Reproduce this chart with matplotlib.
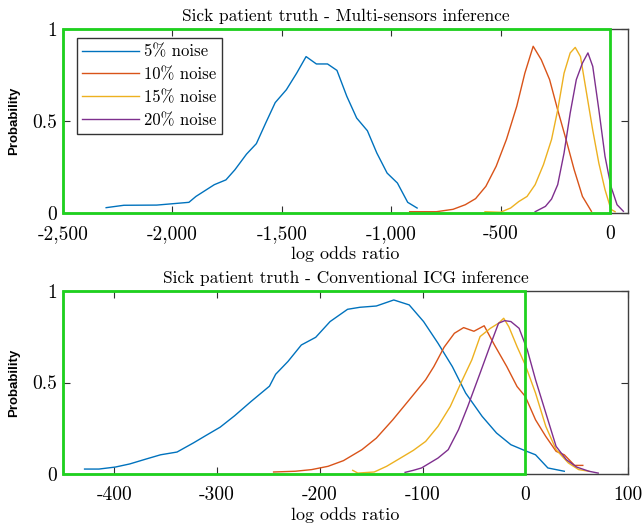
import numpy as np
import matplotlib
matplotlib.use("Agg")
import matplotlib.pyplot as plt
from matplotlib.patches import Rectangle

plt.rcParams['font.family'] = 'serif'
plt.rcParams['font.serif'] = ['cmr10', 'DejaVu Serif']
plt.rcParams['axes.unicode_minus'] = False
plt.rcParams['mathtext.fontset'] = 'cm'

# -----------------------------------------------------------------
# Donnees : panneau du haut (multi-capteurs)
# -----------------------------------------------------------------
top_x5 = [-2303, -2222, -2072, -1925, -1893, -1809, -1756, -1715, -1662, -1617,
          -1574, -1531, -1480, -1433, -1390, -1343, -1292, -1249, -1204, -1159,
          -1110, -1067, -1020, -973, -926, -883]
top_y5 = [0.029, 0.042, 0.043, 0.058, 0.09, 0.154, 0.18, 0.235, 0.32, 0.377,
          0.49, 0.60, 0.67, 0.76, 0.85, 0.81, 0.81, 0.775, 0.634, 0.516,
          0.447, 0.326, 0.217, 0.163, 0.058, 0.027]

top_x10 = [-917, -795, -719, -663, -616, -569, -522, -475, -428, -391,
           -353, -316, -278, -241, -203, -166, -128, -87]
top_y10 = [0.007, 0.007, 0.02, 0.045, 0.078, 0.145, 0.254, 0.40, 0.58, 0.76,
           0.906, 0.833, 0.725, 0.56, 0.40, 0.236, 0.09, 0.009]

top_x15 = [-573, -503, -456, -419, -381, -344, -306, -269, -241, -212,
           -184, -161, -137, -109, -81, -53, -25, 2, 21]
top_y15 = [0.007, 0.004, 0.027, 0.062, 0.09, 0.154, 0.263, 0.40, 0.56, 0.76,
           0.87, 0.90, 0.85, 0.65, 0.45, 0.27, 0.127, 0.02, 0.007]

top_x20 = [-344, -297, -269, -241, -212, -184, -156, -128, -103, -81,
           -53, -25, 2, 30, 59]
top_y20 = [0.007, 0.036, 0.076, 0.154, 0.326, 0.543, 0.725, 0.815, 0.87, 0.797,
           0.56, 0.308, 0.145, 0.045, 0.009]

# -----------------------------------------------------------------
# Panneau du bas (ICG conventionnel)
# -----------------------------------------------------------------
bot_x5 = [-429, -415, -399, -385, -369, -355, -339, -323, -311, -297,
          -283, -267, -249, -243, -231, -218, -204, -190, -173, -161,
          -145, -128, -113, -99, -85, -71, -58, -42, -28, -14,
          0, 10, 22, 38]
bot_y5 = [0.027, 0.027, 0.038, 0.055, 0.082, 0.105, 0.12, 0.17, 0.21, 0.256,
          0.318, 0.396, 0.48, 0.545, 0.615, 0.705, 0.747, 0.833, 0.90, 0.911,
          0.918, 0.951, 0.924, 0.833, 0.715, 0.587, 0.442, 0.315, 0.224, 0.16,
          0.127, 0.105, 0.033, 0.015]

bot_x10 = [-245, -224, -208, -192, -177, -159, -145, -129, -113, -97,
           -89, -79, -69, -60, -50, -40, -30, -18, -8, 0,
           10, 20, 30, 38, 48, 56]
bot_y10 = [0.011, 0.015, 0.024, 0.042, 0.073, 0.133, 0.196, 0.296, 0.405, 0.515,
           0.587, 0.693, 0.769, 0.80, 0.78, 0.81, 0.705, 0.587, 0.478, 0.424,
           0.296, 0.205, 0.124, 0.105, 0.047, 0.047]

bot_x15 = [-168, -163, -147, -135, -123, -109, -97, -85, -73, -62,
           -52, -44, -34, -26, -21, -16, -8, 0, 10, 20,
           30, 42, 52, 62]
bot_y15 = [0.02, 0.005, 0.011, 0.042, 0.082, 0.129, 0.178, 0.26, 0.369, 0.505,
           0.624, 0.751, 0.796, 0.824, 0.851, 0.805, 0.696, 0.596, 0.442, 0.26,
           0.133, 0.06, 0.024, 0.015]

bot_x20 = [-117, -109, -101, -93, -85, -75, -65, -56, -44, -34,
           -26, -20, -14, -6, 2, 10, 20, 30, 40, 50,
           62, 71]
bot_y20 = [0.009, 0.02, 0.033, 0.06, 0.087, 0.133, 0.242, 0.369, 0.551, 0.705,
           0.824, 0.838, 0.833, 0.796, 0.678, 0.515, 0.333, 0.151, 0.078, 0.038,
           0.015, 0.005]

labels = ['5% noise', '10% noise', '15% noise', '20% noise']
colors = ['#0072BD', '#D95319', '#EDB120', '#7E2F8E']
green = '#1ed21e'

top_ticks = [-2500, -2000, -1500, -1000, -500, 0]
top_ticklabels = ['-2,500', '-2,000', '-1,500', '-1,000', '-500', '0']
bot_ticks = [-400, -300, -200, -100, 0, 100]
bot_ticklabels = ['-400', '-300', '-200', '-100', '0', '100']

fig = plt.figure(figsize=(6.44, 5.25), dpi=100)
ax1 = fig.add_axes([63/644, 1 - 213/525, 565/644, 184/525])
ax2 = fig.add_axes([63/644, 1 - 474/525, 565/644, 183/525])


def style_axes(ax, xlim, ticks, ticklabels, title):
    ax.set_xlim(*xlim)
    ax.set_ylim(0, 1)
    ax.set_xticks(ticks)
    ax.set_xticklabels(ticklabels)
    ax.set_yticks([0, 0.5, 1])
    ax.set_yticklabels(['0', '0.5', '1'])
    ax.tick_params(direction='in', top=True, right=True, labelsize=14,
                   length=5, width=0.8, colors='#303030', labelcolor='black')
    ax.tick_params(axis='x', pad=8.5)
    ax.tick_params(axis='y', pad=4)
    for s in ax.spines.values():
        s.set_color('#404040')
        s.set_linewidth(1.0)
    ax.set_xlabel('log odds ratio', fontsize=13, labelpad=2.5)
    ax.set_ylabel('Probability', fontsize=9.5, family='Liberation Sans',
                  fontweight='bold', labelpad=9)
    ax.set_title(title, fontsize=12.5, pad=6)
    # cadre vert (region log odds < 0)
    ax.add_patch(Rectangle((xlim[0], 0), -xlim[0], 1, fill=False,
                           edgecolor=green, linewidth=2, clip_on=False,
                           zorder=5))


for xs, ys, c, lab in zip([top_x5, top_x10, top_x15, top_x20],
                          [top_y5, top_y10, top_y15, top_y20], colors, labels):
    ax1.plot(xs, ys, color=c, linewidth=1.0, label=lab)
style_axes(ax1, (-2500, 80), top_ticks, top_ticklabels,
           'Sick patient truth - Multi-sensors inference')
leg = ax1.legend(loc='upper left', bbox_to_anchor=(0.024, 0.95), fontsize=12,
                 frameon=True, fancybox=False, edgecolor='black',
                 handlelength=3.4, handletextpad=0.3, borderpad=0.35,
                 labelspacing=0.45, borderaxespad=0)
leg.get_frame().set_linewidth(1.0)
leg.set_zorder(6)

for xs, ys, c in zip([bot_x5, bot_x10, bot_x15, bot_x20],
                     [bot_y5, bot_y10, bot_y15, bot_y20], colors):
    ax2.plot(xs, ys, color=c, linewidth=1.0)
style_axes(ax2, (-450, 100), bot_ticks, bot_ticklabels,
           'Sick patient truth - Conventional ICG inference')

fig.savefig('out.png', dpi=100)
